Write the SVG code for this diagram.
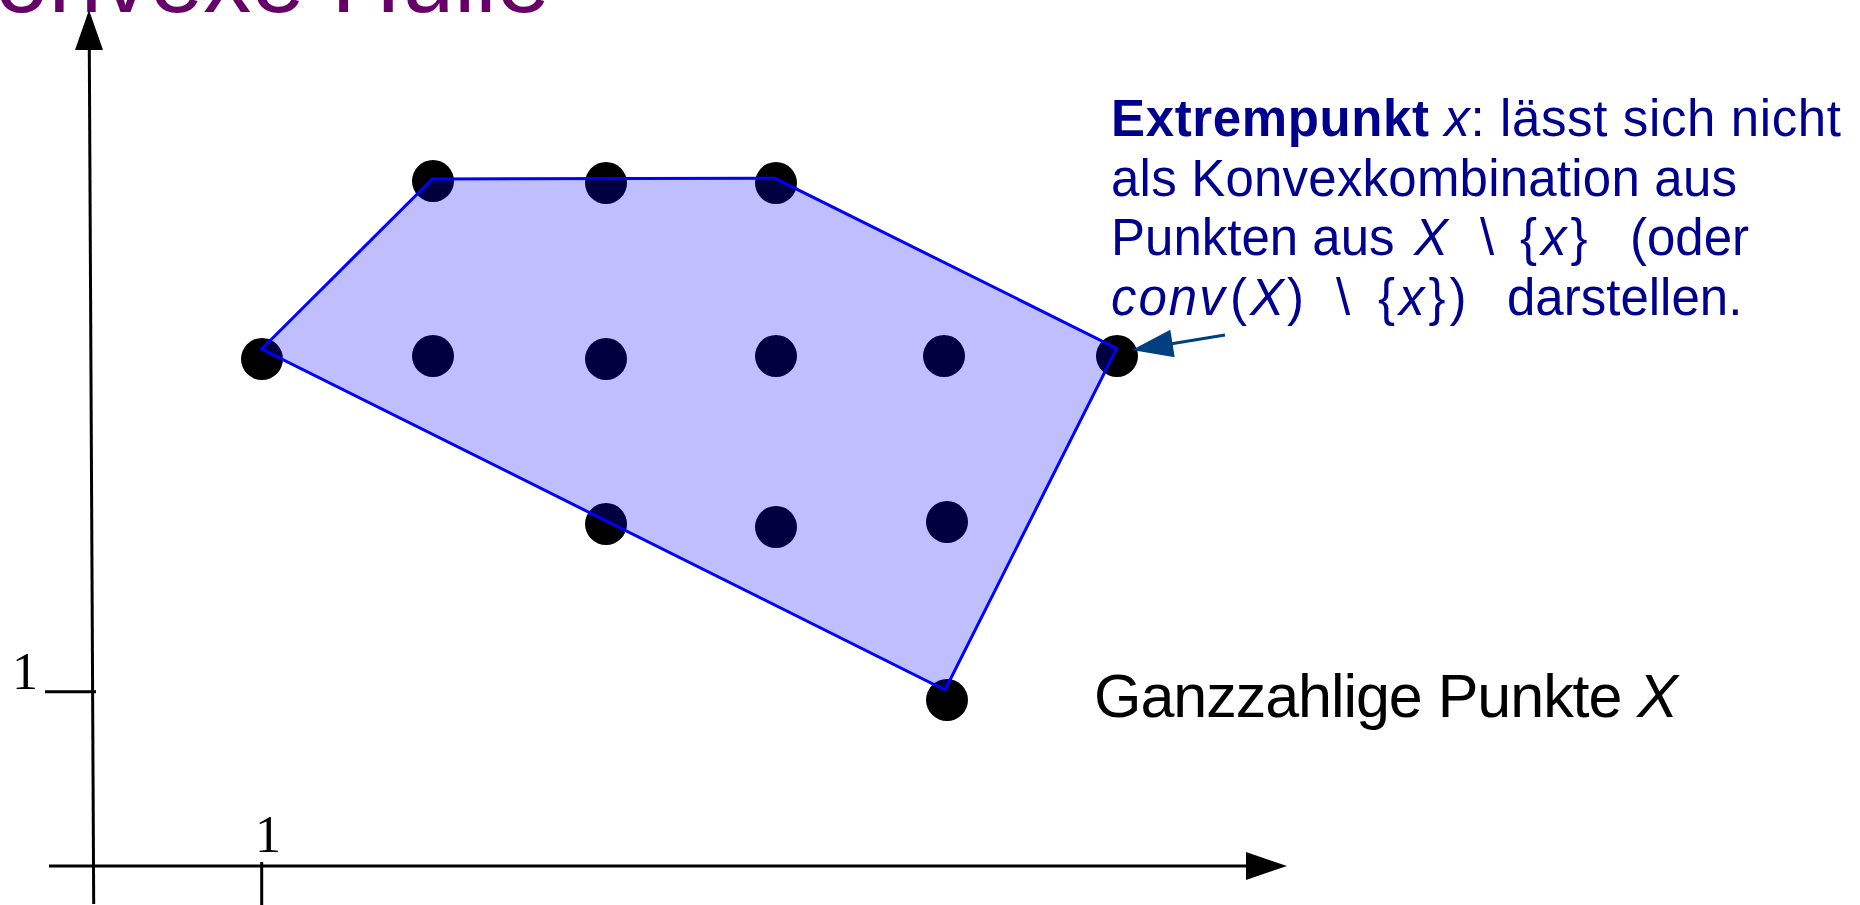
<svg xmlns="http://www.w3.org/2000/svg" width="1860" height="905" viewBox="0 0 1860 905">
  <style>
    .sans { font-family: "Liberation Sans", Arial, sans-serif; }
    .serif { font-family: "Liberation Serif", "Times New Roman", serif; }
    .ann { fill: #00008f; font-size: 51px; }
    .axis { stroke: #000; stroke-width: 3; fill: none; }
    .pt { fill: #000; }
    .it { font-style: italic; }
  </style>
  <rect width="1860" height="905" fill="#fff"/>

  <g id="title">
    <text class="sans" x="550" y="12" text-anchor="end" font-size="96" fill="#660066">Konvexe Hülle</text>
  </g>

  <g id="axes">
    <line class="axis" x1="93.7" y1="904" x2="89.3" y2="48"/>
    <polygon points="89,10 75,50 103,50" fill="#000"/>
    <line class="axis" x1="49" y1="866" x2="1248" y2="866"/>
    <polygon points="1287,866 1246,852 1246,880" fill="#000"/>
    <line class="axis" x1="45" y1="691.7" x2="96" y2="691.7"/>
    <line class="axis" x1="261.7" y1="862" x2="261.7" y2="905"/>
    <text class="serif" x="25" y="689" text-anchor="middle" font-size="52">1</text>
    <text class="serif" x="268" y="852" text-anchor="middle" font-size="52">1</text>
  </g>

  <g id="points">
    <circle id="p1" class="pt" cx="433" cy="181" r="21"/>
    <circle id="p2" class="pt" cx="606" cy="183" r="21"/>
    <circle id="p3" class="pt" cx="776" cy="183" r="21"/>
    <circle id="p4" class="pt" cx="262" cy="359" r="21"/>
    <circle id="p5" class="pt" cx="433" cy="356" r="21"/>
    <circle id="p6" class="pt" cx="606" cy="359" r="21"/>
    <circle id="p7" class="pt" cx="776" cy="356" r="21"/>
    <circle id="p8" class="pt" cx="944" cy="356" r="21"/>
    <circle id="p9" class="pt" cx="1117" cy="356" r="21"/>
    <circle id="p10" class="pt" cx="606" cy="524" r="21"/>
    <circle id="p11" class="pt" cx="776" cy="527" r="21"/>
    <circle id="p12" class="pt" cx="947" cy="522" r="21"/>
    <circle id="p13" class="pt" cx="947" cy="700" r="21"/>
  </g>

  <g id="hull">
    <polygon points="261.7,349 432.3,179 775,178.3 1116.7,348.3 945,690" fill="#0000ff" fill-opacity="0.25" stroke="#0000ff" stroke-width="3" stroke-linejoin="miter"/>
  </g>

  <g id="connectors">
    <line x1="1225" y1="335" x2="1170" y2="344" stroke="#004080" stroke-width="3"/>
    <polygon points="1132,350 1170.3,329.7 1174.7,357.3" fill="#004080"/>
  </g>

  <g id="label-extrempunkt" class="sans ann">
    <text x="1111" y="136" textLength="730"><tspan font-weight="bold">Extrempunkt</tspan> <tspan class="it">x</tspan>: lässt sich nicht</text>
    <text x="1111" y="195.5" textLength="626">als Konvexkombination aus</text>
    <text y="255"><tspan x="1111">Punkten aus</tspan><tspan x="1414" class="it">X</tspan><tspan x="1480">\</tspan><tspan x="1520">{</tspan><tspan class="it" dx="4">x</tspan><tspan dx="4">}</tspan><tspan x="1630">(oder</tspan></text>
    <text y="314.5"><tspan x="1111" class="it" letter-spacing="2">conv</tspan><tspan x="1230">(</tspan><tspan class="it" dx="3">X</tspan><tspan dx="3">)</tspan><tspan x="1336">\</tspan><tspan x="1378">{</tspan><tspan class="it" dx="4">x</tspan><tspan dx="4">}</tspan><tspan dx="4">)</tspan><tspan x="1507">darstellen.</tspan></text>
  </g>

  <g id="label-ganzzahlig">
    <text class="sans" x="1094" y="717" font-size="61" textLength="584">Ganzzahlige Punkte <tspan class="it">X</tspan></text>
  </g>
</svg>
